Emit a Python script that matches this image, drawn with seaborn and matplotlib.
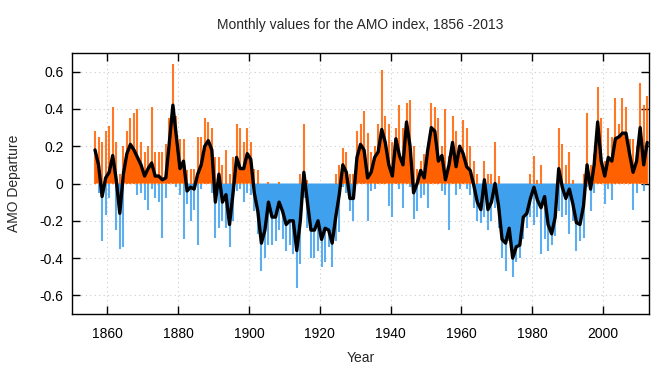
import numpy as np
import pandas as pd
import seaborn as sns
import matplotlib.pyplot as plt
from matplotlib.ticker import FuncFormatter

# one value per calendar year, 1856..2012
years = np.arange(1856, 2013)

# smoothed AMO (black line)
smooth = [0.18, 0.10, -0.07, 0.03,
          0.06, 0.15, 0.02, -0.16, 0.05, 0.16, 0.21, 0.18, 0.14, 0.10,
          0.04, 0.08, 0.11, 0.04, 0.04, 0.02, 0.03, 0.22, 0.42, 0.25,
          0.08, 0.12, -0.04, -0.02, -0.03, 0.05, 0.10, 0.20, 0.23, 0.18,
          -0.10, 0.05, -0.10, -0.06, -0.22, -0.05, 0.14, 0.08, 0.08, 0.16,
          0.13, -0.05, -0.15, -0.32, -0.25, -0.10, -0.18, -0.18, -0.10, -0.15,
          -0.22, -0.20, -0.20, -0.36, -0.20, 0.06, -0.10, -0.25, -0.25, -0.20,
          -0.30, -0.24, -0.25, -0.32, -0.18, -0.06, 0.10, 0.06, -0.08, -0.08,
          0.14, 0.21, 0.18, 0.03, 0.06, 0.14, 0.17, 0.29, 0.22, 0.10,
          0.04, 0.24, 0.15, 0.10, 0.33, 0.20, -0.05, 0.00, 0.07, 0.03,
          0.18, 0.30, 0.28, 0.12, 0.15, 0.02, 0.10, 0.22, 0.09, 0.20,
          0.16, 0.09, 0.07, -0.01, -0.10, -0.14, 0.02, -0.14, -0.10, 0.00,
          -0.12, -0.30, -0.32, -0.24, -0.40, -0.34, -0.33, -0.18, -0.16, -0.08,
          -0.02, -0.09, -0.13, -0.07, -0.22, -0.27, -0.18, 0.08, -0.02, -0.08,
          -0.03, -0.11, -0.21, -0.22, -0.12, 0.10, -0.03, 0.10, 0.33, 0.12,
          0.04, 0.14, 0.12, 0.24, 0.25, 0.27, 0.27, 0.16, 0.06, 0.12,
          0.30, 0.10, 0.22]

# highest monthly value of each year (orange spikes)
hi = [0.28, 0.25, 0.22, 0.28,
      0.31, 0.41, 0.22, 0.05, 0.20, 0.28, 0.35, 0.38, 0.40, 0.22,
      0.17, 0.20, 0.41, 0.17, 0.17, 0.17, 0.21, 0.35, 0.64, 0.36,
      0.24, 0.24, 0.07, 0.08, 0.08, 0.25, 0.25, 0.35, 0.33, 0.30,
      0.14, 0.14, 0.10, 0.18, 0.05, 0.14, 0.32, 0.30, 0.22, 0.30,
      0.22, 0.08, 0.07, -0.05, -0.05, 0.01, -0.02, -0.03, 0.01, -0.05,
      -0.10, -0.10, -0.08, -0.20, 0.05, 0.32, 0.02, -0.10, -0.10, -0.08,
      -0.12, -0.08, -0.10, -0.15, 0.05, 0.10, 0.19, 0.17, 0.05, 0.05,
      0.28, 0.32, 0.39, 0.27, 0.17, 0.20, 0.32, 0.61, 0.36, 0.32,
      0.22, 0.30, 0.42, 0.30, 0.43, 0.45, 0.20, 0.08, 0.12, 0.16,
      0.14, 0.43, 0.41, 0.35, 0.20, 0.40, 0.15, 0.36, 0.28, 0.20,
      0.34, 0.30, 0.20, 0.12, 0.05, 0.00, 0.12, 0.05, 0.05, 0.22,
      0.04, -0.10, -0.15, -0.08, -0.20, -0.15, -0.15, -0.05, -0.04, 0.05,
      0.15, 0.02, 0.10, 0.00, -0.05, -0.08, -0.05, 0.30, 0.21, 0.10,
      0.17, 0.02, -0.08, -0.12, 0.05, 0.38, 0.10, 0.16, 0.52, 0.35,
      0.12, 0.30, 0.25, 0.46, 0.32, 0.46, 0.41, 0.24, 0.24, 0.20,
      0.54, 0.42, 0.47]

# lowest monthly value of each year (blue spikes)
lo = [0.10, -0.05, -0.31, -0.17,
      -0.08, 0.00, -0.25, -0.35, -0.34, 0.05, 0.08, 0.05, -0.06, -0.05,
      -0.09, -0.14, -0.03, -0.08, -0.10, -0.29, -0.08, 0.02, 0.20, -0.02,
      -0.06, -0.30, -0.11, -0.20, -0.14, -0.33, -0.03, 0.05, 0.08, -0.05,
      -0.29, -0.24, -0.20, -0.24, -0.34, -0.20, -0.04, -0.03, -0.10, -0.05,
      -0.06, -0.15, -0.27, -0.47, -0.40, -0.33, -0.33, -0.31, -0.25, -0.30,
      -0.36, -0.33, -0.38, -0.56, -0.43, -0.08, -0.24, -0.40, -0.40, -0.36,
      -0.45, -0.42, -0.34, -0.45, -0.31, -0.26, -0.02, -0.05, -0.15, -0.20,
      0.02, 0.05, 0.05, -0.20, -0.04, -0.03, 0.05, 0.10, 0.05, -0.12,
      -0.18, 0.05, -0.03, -0.13, 0.05, -0.02, -0.19, -0.15, -0.08, -0.06,
      -0.13, 0.05, 0.10, 0.00, -0.04, -0.06, -0.25, 0.02, -0.06, -0.03,
      0.02, -0.03, -0.06, -0.13, -0.20, -0.21, -0.18, -0.25, -0.20, -0.13,
      -0.24, -0.40, -0.47, -0.31, -0.50, -0.42, -0.40, -0.30, -0.24, -0.18,
      -0.22, -0.18, -0.38, -0.30, -0.36, -0.33, -0.28, -0.15, -0.18, -0.17,
      -0.27, -0.20, -0.36, -0.31, -0.29, -0.02, -0.15, -0.05, 0.10, 0.02,
      -0.11, -0.03, -0.09, 0.05, 0.10, 0.10, 0.10, 0.02, -0.14, -0.05,
      0.10, -0.04, 0.05]

df = pd.DataFrame({'Year': years + 0.5, 'AMO': smooth, 'hi': hi, 'lo': lo})

orange = '#ff6000'
blue = '#3fa0ee'

sns.set_style("ticks")
plt.rcParams['font.family'] = ['Liberation Sans', 'DejaVu Sans']
plt.rcParams['axes.unicode_minus'] = False

fig = plt.figure(figsize=(6.72, 3.72), dpi=100)
ax = fig.add_axes([72 / 672, 58 / 372, 577 / 672, 261 / 372])

# monthly spikes
up = df[df.hi > 0]
ax.vlines(up.Year, 0, up.hi, color=orange, lw=1.5, alpha=0.85)
down = df[df.lo < 0]
ax.vlines(down.Year, down.lo, 0, color=blue, lw=1.5, alpha=0.85)

# solid area under the smoothed curve
ax.fill_between(df.Year, 0, df.AMO, where=df.AMO >= 0, interpolate=True, color=orange, lw=0)
ax.fill_between(df.Year, 0, df.AMO, where=df.AMO <= 0, interpolate=True, color=blue, lw=0)

sns.lineplot(data=df, x='Year', y='AMO', color='black', lw=2.4, ax=ax)

ax.set_xlim(1850, 2013)
ax.set_ylim(-0.7, 0.7)
ax.set_xticks(range(1860, 2001, 20))
ax.set_yticks(np.round(np.arange(-0.6, 0.61, 0.2), 1))
ax.yaxis.set_major_formatter(FuncFormatter(lambda v, p: '%g' % round(v, 1)))
ax.grid(True, ls=(0, (1, 3)), color='#cccccc', lw=0.8)
ax.set_axisbelow(True)
ax.tick_params(direction='in', top=True, right=True, length=6, width=1,
               labelsize=10, colors='black')
ax.tick_params(axis='x', pad=9)
ax.tick_params(axis='y', pad=6)
for s in ax.spines.values():
    s.set_linewidth(1)
    s.set_color('black')

ax.set_title('Monthly values for the AMO index, 1856 -2013', fontsize=10, pad=17)
ax.set_xlabel('Year', fontsize=10)
ax.set_ylabel('AMO Departure', fontsize=10)
ax.xaxis.set_label_coords(0.5, -0.14)
ax.yaxis.set_label_coords(-0.088, 0.5)

fig.savefig('out.png', dpi=100)
